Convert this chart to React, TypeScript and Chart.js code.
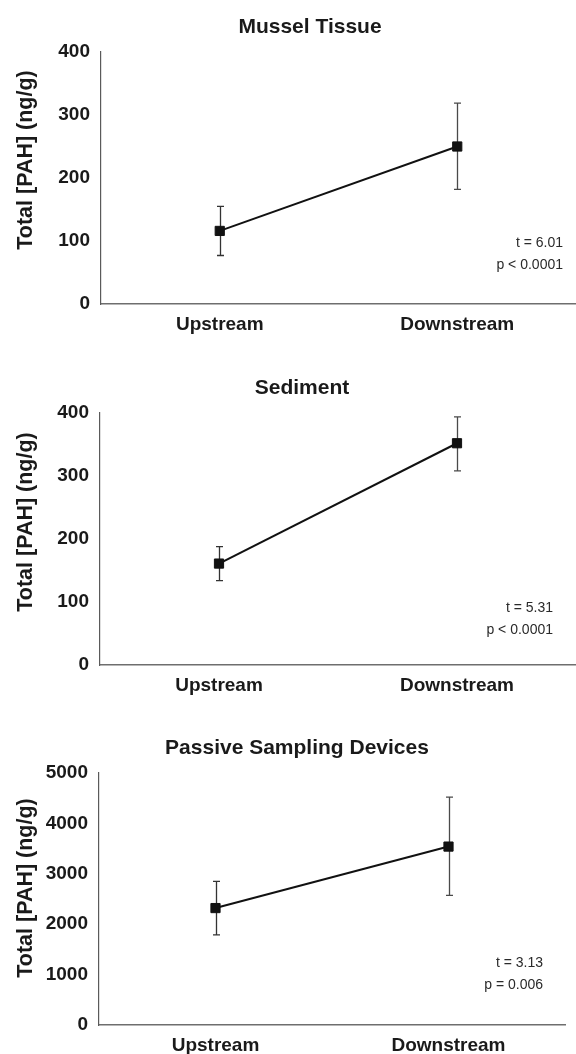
import React, { useEffect, useRef } from "react";
import { Chart, registerables } from "chart.js";

Chart.register(...registerables);

// ---- data ----
const categories = ["Upstream", "Downstream"];

const musselMeans = [116, 250];
const musselLow = [77, 182];
const musselHigh = [155, 319];

const sedimentMeans = [161, 352];
const sedimentLow = [134, 308];
const sedimentHigh = [188, 394];

const psdMeans = [2320, 3540];
const psdLow = [1790, 2570];
const psdHigh = [2850, 4520];

const panelTitles = ["Mussel Tissue", "Sediment", "Passive Sampling Devices"];
const yMaxes = [400, 400, 5000];
const ySteps = [100, 100, 1000];
const statTexts = [
  ["t = 6.01", "p < 0.0001"],
  ["t = 5.31", "p < 0.0001"],
  ["t = 3.13", "p = 0.006"],
];
const yAxisTitle = "Total [PAH] (ng/g)";

const seriesMeans = [musselMeans, sedimentMeans, psdMeans];
const seriesLow = [musselLow, sedimentLow, psdLow];
const seriesHigh = [musselHigh, sedimentHigh, psdHigh];

// ---- layout (pixels) ----
const layouts = [
  { top: 0, h: 340, left: 101, right: 576, plotTop: 52, plotBottom: 304, titleX: 310, titleY: 27, yTitleY: 160, statRight: 563, statY: 243 },
  { top: 360, h: 340, left: 100, right: 576, plotTop: 53, plotBottom: 305, titleX: 302, titleY: 28, yTitleY: 162, statRight: 553, statY: 248 },
  { top: 720, h: 334, left: 99, right: 565, plotTop: 53, plotBottom: 305, titleX: 297, titleY: 28, yTitleY: 168, statRight: 543, statY: 243 },
];

const FONT = "'Liberation Sans', Arial, Helvetica, sans-serif";
const TEXT = "#1a1a1a";

const errorBarPlugin = {
  id: "errorBars",
  beforeDatasetsDraw(chart: any, _args: any, opts: any) {
    const { ctx, scales } = chart;
    const x = scales.x;
    const y = scales.y;
    ctx.save();
    ctx.lineWidth = 1.3;
    opts.low.forEach((lo: number, i: number) => {
      const px = Math.round(x.getPixelForValue(i)) + 0.5;
      const yl = y.getPixelForValue(lo);
      const yh = y.getPixelForValue(opts.high[i]);
      ctx.strokeStyle = opts.colors[i];
      ctx.beginPath();
      ctx.moveTo(px, yh);
      ctx.lineTo(px, yl);
      ctx.moveTo(px - 3.5, yh);
      ctx.lineTo(px + 3.5, yh);
      ctx.moveTo(px - 3.5, yl);
      ctx.lineTo(px + 3.5, yl);
      ctx.stroke();
    });
    ctx.restore();
  },
};

const textPlugin = {
  id: "panelText",
  afterDraw(chart: any, _args: any, opts: any) {
    const { ctx } = chart;
    ctx.save();
    ctx.fillStyle = TEXT;
    // title
    ctx.font = `bold 21px ${FONT}`;
    ctx.textAlign = "center";
    ctx.textBaseline = "middle";
    ctx.fillText(opts.title, opts.titleX, opts.titleY);
    // y axis title
    ctx.save();
    ctx.translate(26, opts.yTitleY);
    ctx.rotate(-Math.PI / 2);
    ctx.font = `bold 21.5px ${FONT}`;
    ctx.fillText(opts.yTitle, 0, 0);
    ctx.restore();
    // stats
    ctx.fillStyle = "#2a2a2a";
    ctx.font = `14px ${FONT}`;
    ctx.textAlign = "right";
    opts.stats.forEach((s: string, i: number) => {
      ctx.fillText(s, opts.statRight, opts.statY + i * 22);
    });
    ctx.restore();
  },
};

function Panel({ idx }: { idx: number }) {
  const ref = useRef<HTMLCanvasElement | null>(null);
  const L = layouts[idx];

  useEffect(() => {
    if (!ref.current) return;
    const chart = new Chart(ref.current, {
      type: "line",
      data: {
        labels: categories,
        datasets: [
          {
            data: seriesMeans[idx],
            borderColor: "#111111",
            backgroundColor: "#111111",
            borderWidth: 2,
            pointStyle: "rect",
            pointRadius: 6.5,
            pointBorderWidth: 1,
            pointBackgroundColor: "#111111",
            pointBorderColor: "#111111",
            tension: 0,
            clip: false as any,
          },
        ],
      },
      options: {
        responsive: false,
        animation: false,
        devicePixelRatio: 1,
        layout: {
          autoPadding: false,
          padding: { top: L.plotTop, left: 0, right: 576 - L.right, bottom: 0 },
        },
        plugins: {
          legend: { display: false },
          tooltip: { enabled: false },
          title: { display: false },
          errorBars: {
            low: seriesLow[idx],
            high: seriesHigh[idx],
            colors: ["#333333", "#4a4a4a"],
          },
          panelText: {
            title: panelTitles[idx],
            titleX: L.titleX,
            titleY: L.titleY,
            yTitle: yAxisTitle,
            yTitleY: L.yTitleY,
            stats: statTexts[idx],
            statRight: L.statRight,
            statY: L.statY,
          },
        } as any,
        scales: {
          x: {
            type: "category",
            offset: true,
            grid: { display: false, drawTicks: false },
            border: { display: true, color: "#6e6e6e", width: 1.5 },
            ticks: {
              color: TEXT,
              padding: 9,
              maxRotation: 0,
              font: { family: FONT, size: 19, weight: "bold" },
            },
            afterFit: (scale: any) => {
              scale.height = L.h - L.plotBottom;
              scale.paddingLeft = 0;
              scale.paddingRight = 0;
            },
          },
          y: {
            type: "linear",
            min: 0,
            max: yMaxes[idx],
            grid: { display: false, drawTicks: false },
            border: { display: true, color: "#5a5a5a", width: 1.2 },
            ticks: {
              stepSize: ySteps[idx],
              color: TEXT,
              padding: 11,
              font: { family: FONT, size: 19, weight: "bold" },
              callback: (v: any) => String(v),
            },
            afterFit: (scale: any) => {
              scale.width = L.left;
              scale.paddingTop = 0;
              scale.paddingBottom = 0;
            },
          },
        },
      } as any,
      plugins: [errorBarPlugin, textPlugin],
    });
    return () => chart.destroy();
  }, [idx]);

  return (
    <div style={{ position: "absolute", left: 0, top: L.top, width: 576, height: L.h }}>
      <canvas ref={ref} width={576} height={L.h} style={{ display: "block", width: 576, height: L.h }} />
    </div>
  );
}

export default function App() {
  return (
    <div style={{ position: "absolute", left: 0, top: 0, width: 576, height: 1054, background: "#ffffff" }}>
      <Panel idx={0} />
      <Panel idx={1} />
      <Panel idx={2} />
    </div>
  );
}
